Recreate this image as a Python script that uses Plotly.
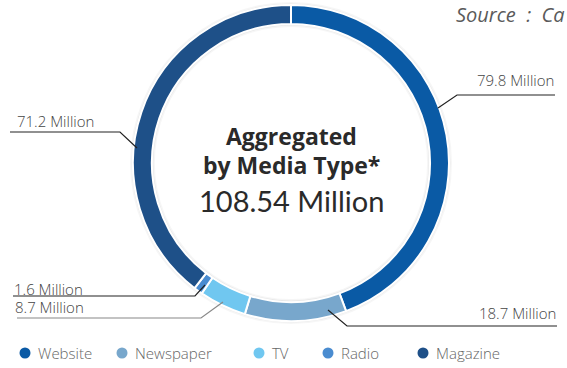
import plotly.graph_objects as go

# Audience reach by media type (millions)
media_types = ["Website", "Newspaper", "TV", "Radio", "Magazine"]
reach_millions = [79.8, 18.7, 8.7, 1.6, 71.2]
slice_colors = ["#0a5aa5", "#78a7cc", "#70c7f0", "#4a8cd0", "#1e5088"]
aggregated_total = 108.54

W, H = 567, 368


def px(x):
    return x / W


def py(y):
    return 1 - y / H


fig = go.Figure()

cx, cy, r = 291, 163, 158


def ring_domain(radius):
    return dict(x=[px(cx - radius), px(cx + radius)], y=[py(cy + radius), py(cy - radius)])


# Soft shadow behind the ring
for extra, hole, alpha in [(3, 0.845, 0.035), (1.5, 0.862, 0.05)]:
    fig.add_trace(go.Pie(
        values=[1], sort=False, hole=hole, textinfo="none", hoverinfo="skip",
        marker=dict(colors=[f"rgba(0,0,0,{alpha})"], line=dict(width=0)),
        showlegend=False, domain=ring_domain(r + extra),
    ))

# Donut ring
fig.add_trace(go.Pie(
    labels=media_types,
    values=reach_millions,
    sort=False,
    direction="clockwise",
    rotation=0,
    hole=0.88,
    marker=dict(colors=slice_colors, line=dict(color="white", width=2)),
    textinfo="none",
    hoverinfo="label+value",
    showlegend=False,
    domain=ring_domain(r),
))

sans = "'Open Sans', sans-serif"
label_font = dict(family=sans, size=15, color="#444444", weight=300)

# Value callouts: text position, anchor side, leader polyline
callouts = [
    (reach_millions[0], 556, 80, "right", [(438, 108), (457, 95), (555, 95)], "#222222"),
    (reach_millions[4], 15, 121, "left", [(137, 148), (120, 132), (10, 132)], "#222222"),
    (reach_millions[3], 12, 289, "left", [(205, 285), (195, 296), (13, 296)], "#222222"),
    (reach_millions[2], 13, 307, "left", [(223, 302), (201, 318), (17, 318)], "#888888"),
    (reach_millions[1], 558, 313, "right", [(328, 310), (347, 326), (557, 326)], "#222222"),
]

shapes = []
annotations = []
for value, tx, ty, side, pts, lc in callouts:
    path = "M " + " L ".join(f"{px(x)},{py(y)}" for x, y in pts)
    shapes.append(dict(type="path", path=path, xref="paper", yref="paper",
                       line=dict(color=lc, width=1.2)))
    annotations.append(dict(
        text=f"{value} Million", x=px(tx), y=py(ty), xref="paper", yref="paper",
        xanchor=side, yanchor="middle", showarrow=False, font=label_font,
    ))

# Centre text
annotations += [
    dict(text="<b>Aggregated</b>", x=px(cx), y=py(136), xref="paper", yref="paper",
         showarrow=False, xanchor="center", yanchor="middle",
         font=dict(family=sans, size=23, color="#2a2a2a")),
    dict(text="<b>by Media Type*</b>", x=px(cx), y=py(165), xref="paper", yref="paper",
         showarrow=False, xanchor="center", yanchor="middle",
         font=dict(family=sans, size=23, color="#2a2a2a")),
    dict(text=f"{aggregated_total} Million", x=px(cx), y=py(200), xref="paper", yref="paper",
         showarrow=False, xanchor="center", yanchor="middle",
         font=dict(family="Lato, sans-serif", size=29, color="#2a2a2a")),
    dict(text="<i>Source\u00a0\u00a0:\u00a0\u00a0Ca</i>", x=px(454), y=py(14), xref="paper", yref="paper",
         showarrow=False, xanchor="left", yanchor="middle",
         font=dict(family=sans, size=20, color="#5a5a5a", weight=400)),
]

# Legend row
legend_x = [25, 122, 259, 328, 423]
legend_y = 353
for name, color, lx in zip(media_types, slice_colors, legend_x):
    rad = 5.5
    shapes.append(dict(type="circle", xref="paper", yref="paper",
                       x0=px(lx - rad), x1=px(lx + rad), y0=py(legend_y + rad), y1=py(legend_y - rad),
                       fillcolor=color, line=dict(width=0)))
    annotations.append(dict(
        text=name, x=px(lx + 11), y=py(legend_y), xref="paper", yref="paper",
        xanchor="left", yanchor="middle", showarrow=False,
        font=dict(family=sans, size=15, color="#666666", weight=300),
    ))

fig.update_layout(
    width=W, height=H,
    margin=dict(l=0, r=0, t=0, b=0),
    paper_bgcolor="white",
    plot_bgcolor="white",
    shapes=shapes,
    annotations=annotations,
)

fig.write_html("out.html")
